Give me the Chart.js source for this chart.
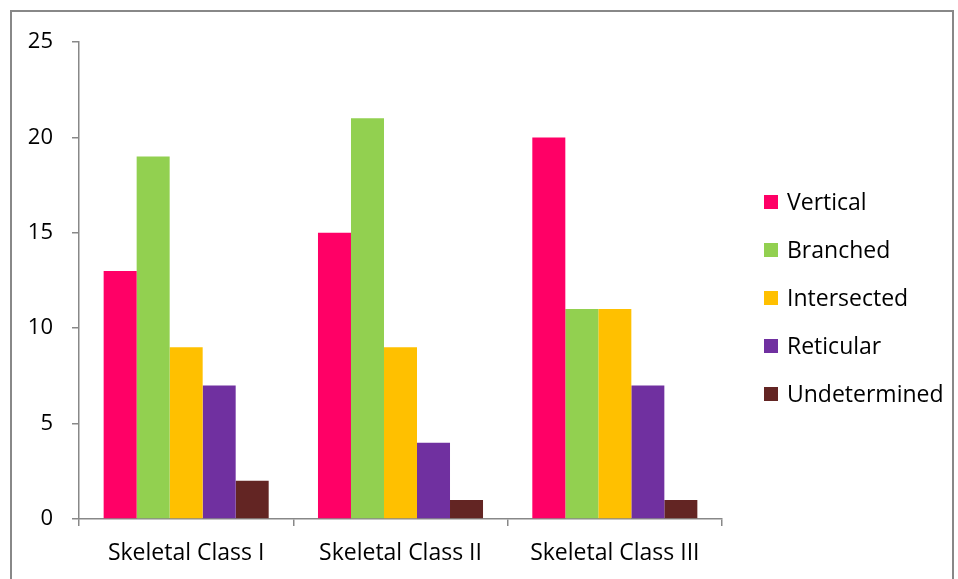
<!DOCTYPE html>
<html>
<head>
<meta charset="utf-8">
<script src="https://cdn.jsdelivr.net/npm/chart.js@4"></script>
<style>
  html, body { margin: 0; padding: 0; background: #fff; }
  #wrap { position: relative; width: 958px; height: 579px; overflow: hidden; }
  #frame { position: absolute; left: 10px; top: 10px; width: 944px; height: 600px; border: 2px solid #888; box-sizing: border-box; }
  canvas { position: absolute; left: 0; top: 0; }
</style>
</head>
<body>
<div id="wrap">
  <div id="frame"></div>
  <canvas id="chart" width="958" height="579"></canvas>
</div>
<script>
const categories = ["Skeletal Class I", "Skeletal Class II", "Skeletal Class III"];
const seriesNames = ["Vertical", "Branched", "Intersected", "Reticular", "Undetermined"];
const vertical = [13, 15, 20];
const branched = [19, 21, 11];
const intersected = [9, 9, 11];
const reticular = [7, 4, 7];
const undetermined = [2, 1, 1];
const colors = ["#FF0066", "#92D050", "#FFC000", "#7030A0", "#632523"];

const FONT = "'Open Sans', sans-serif";
const axisColor = "#888888";

const sideLegend = {
    id: "sideLegend",
    afterDraw(chart) {
        const ctx = chart.ctx;
        ctx.save();
        ctx.font = "23px " + FONT;
        ctx.textBaseline = "middle";
        chart.data.datasets.forEach((ds, i) => {
            const y = 202 + i * 48;
            ctx.fillStyle = ds.backgroundColor;
            ctx.fillRect(764, y - 7, 14, 14);
            ctx.fillStyle = "#000";
            ctx.fillText(ds.label, 787, y + 1);
        });
        ctx.restore();
    }
};

new Chart(document.getElementById("chart"), {
    type: "bar",
    data: {
        labels: categories,
        datasets: [vertical, branched, intersected, reticular, undetermined].map((d, i) => ({
            label: seriesNames[i],
            data: d,
            backgroundColor: colors[i],
            borderWidth: 0,
            categoryPercentage: 0.77,
            barPercentage: 1
        }))
    },
    options: {
        responsive: false,
        animation: false,
        layout: { padding: { top: 42, right: 236, bottom: 0, left: 0 } },
        plugins: { legend: { display: false }, tooltip: { enabled: false } },
        scales: {
            x: {
                grid: { display: true, drawOnChartArea: false, drawTicks: true, tickLength: 7, color: axisColor, lineWidth: 1.5, offset: true },
                border: { display: true, color: axisColor, width: 1.5 },
                ticks: { color: "#000", font: { family: FONT, size: 23 }, padding: 14, maxRotation: 0 },
                afterFit: s => { s.height = 60; }
            },
            y: {
                min: 0,
                max: 25,
                grid: { display: true, drawOnChartArea: false, drawTicks: true, tickLength: 7, color: axisColor, lineWidth: 1.5 },
                border: { display: true, color: axisColor, width: 1.5 },
                ticks: { stepSize: 5, color: "#000", font: { family: FONT, size: 22 }, padding: 19 },
                afterFit: s => { s.width = 79; }
            }
        }
    },
    plugins: [sideLegend]
});
</script>
</body>
</html>
